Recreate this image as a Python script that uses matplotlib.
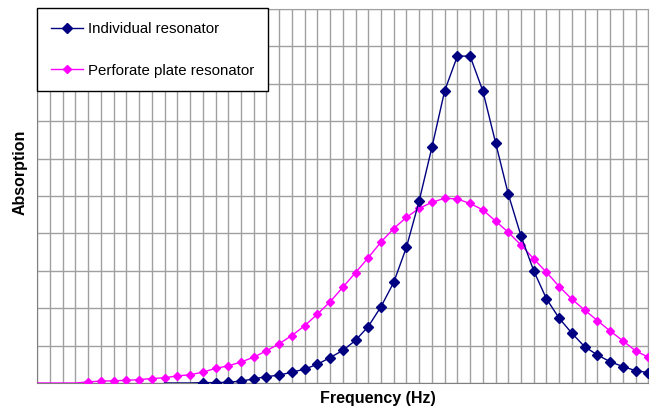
import numpy as np
import matplotlib.pyplot as plt

plt.rcParams['font.family'] = ['Liberation Sans', 'DejaVu Sans']

# valores (x = indice de la rejilla, y = 0..10)
x_ind = list(range(10, 49))
y_ind = [0, 0, 0,
         0.01, 0.01, 0.02, 0.05, 0.11, 0.17, 0.21, 0.29, 0.37, 0.50,
         0.68, 0.87, 1.14, 1.51, 2.04, 2.69, 3.63, 4.87, 6.30, 7.81,
         8.74, 8.74, 7.81, 6.43, 5.05, 3.93, 3.00, 2.25, 1.73, 1.33,
         0.97, 0.75, 0.57, 0.44, 0.33, 0.28]
ind_start = 3  # primeros puntos sin marcador

x_perf = list(range(0, 49))
y_perf = [0, 0, 0, 0,
          0.03, 0.05, 0.06, 0.07, 0.09, 0.12, 0.14, 0.19, 0.22, 0.29,
          0.39, 0.46, 0.56, 0.69, 0.86, 1.05, 1.27, 1.53, 1.84, 2.17,
          2.56, 2.95, 3.35, 3.77, 4.13, 4.43, 4.67, 4.83, 4.94, 4.92,
          4.80, 4.63, 4.33, 4.03, 3.69, 3.32, 2.96, 2.58, 2.24, 1.95,
          1.67, 1.39, 1.13, 0.86, 0.69]
perf_start = 4

fig = plt.figure(figsize=(6.61, 4.11), dpi=100)
ax = fig.add_axes([37.3 / 661, 28 / 411, 611 / 661, 374 / 411])

ax.plot(x_perf, y_perf, color='#FF00FF', lw=1, marker='D', ms=4.5,
        markevery=list(range(perf_start, len(x_perf))),
        label='Perforate plate resonator', zorder=3)
ax.plot(x_ind, y_ind, color='#000080', lw=1, marker='D', ms=5.5,
        markevery=list(range(ind_start, len(x_ind))),
        label='Individual resonator', zorder=4)

ax.set_xlim(0, 48)
ax.set_ylim(0, 10)
ax.set_xticks(range(0, 49))
ax.set_yticks(range(0, 11))
ax.tick_params(length=0, labelbottom=False, labelleft=False)
ax.grid(True, color='#a0a0a0', lw=1)
ax.set_axisbelow(True)
for s in ['top', 'right']:
    ax.spines[s].set_color('#a0a0a0')
for s in ['left', 'bottom']:
    ax.spines[s].set_color('#808080')

h, l = ax.get_legend_handles_labels()
leg = ax.legend(h[::-1], l[::-1], loc='upper left',
                bbox_to_anchor=(37 / 661, 1 - 8 / 411),
                bbox_transform=fig.transFigure, fontsize=10.8,
                numpoints=1, fancybox=False, framealpha=1,
                edgecolor='black', borderpad=0.92, labelspacing=1.85,
                handlelength=2.15, handletextpad=0.3, borderaxespad=0)
leg.get_frame().set_linewidth(1)
leg.set_zorder(10)

fig.text(20 / 661, 1 - 172 / 411, 'Absorption', rotation=90,
         fontsize=11.5, fontweight='bold', ha='center', va='center')
fig.text(378 / 661, 1 - 398 / 411, 'Frequency (Hz)',
         fontsize=11.5, fontweight='bold', ha='center', va='center')

fig.savefig('out.png', dpi=100)
